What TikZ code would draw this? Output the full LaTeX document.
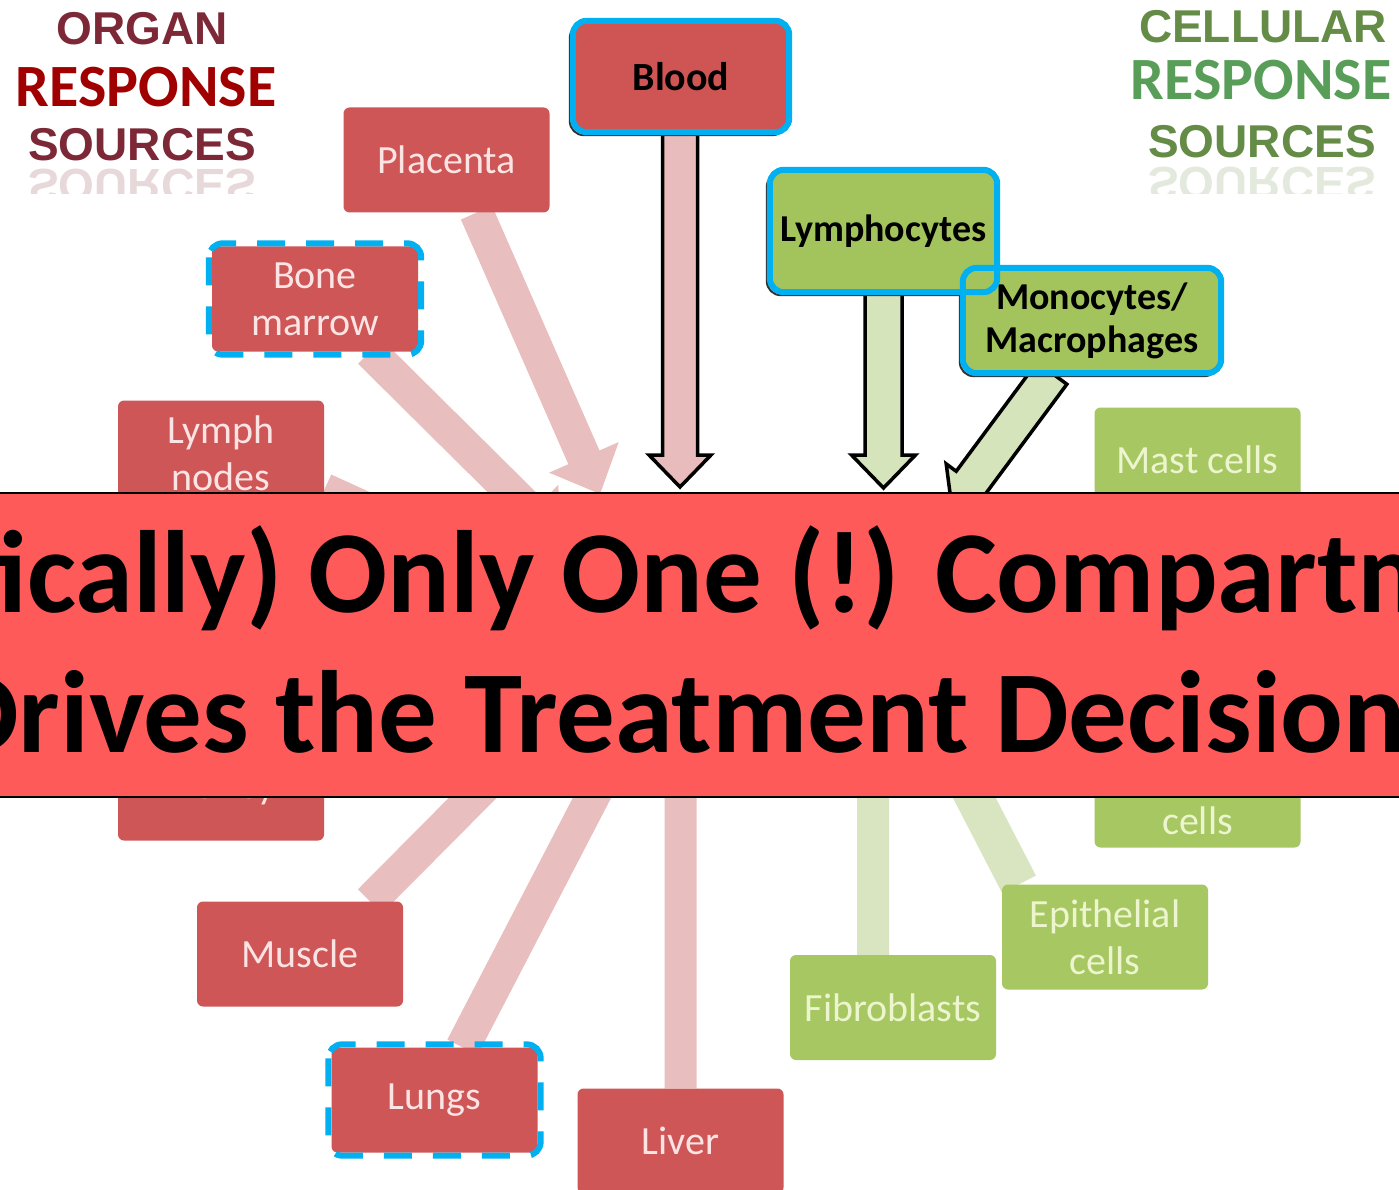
\documentclass[tikz,border=0pt]{standalone}
\usepackage{fontspec}
\setmainfont{Carlito}
\newfontfamily\titlefont{Liberation Sans}
\usetikzlibrary{calc}
\definecolor{boxred}{RGB}{206,86,86}
\definecolor{hlred}{RGB}{207,84,84}
\definecolor{boxgreen}{RGB}{166,199,98}
\definecolor{hlgreen}{RGB}{163,196,92}
\definecolor{palered}{RGB}{233,190,190}
\definecolor{palegreen}{RGB}{217,229,193}
\definecolor{arrowpink}{RGB}{232,188,188}
\definecolor{arrowgreen}{RGB}{214,228,188}
\definecolor{hlcyan}{RGB}{0,176,240}
\definecolor{bannerred}{RGB}{255,90,90}
\definecolor{titlered}{RGB}{160,0,0}
\definecolor{titlegreen}{RGB}{88,158,88}
\definecolor{titlemaroon}{RGB}{125,40,55}
\definecolor{titleolive}{RGB}{100,140,70}
\definecolor{redtext}{RGB}{252,228,228}
\definecolor{greentext}{RGB}{236,245,205}
\pgfdeclarelayer{bglayer}
\pgfdeclarelayer{arrowlayer}
\pgfdeclarelayer{frontlayer}
\pgfsetlayers{bglayer,arrowlayer,main,frontlayer}
% #1 style, #2 start, #3 tip, #4 shaft half width, #5 head half width, #6 head length
\newcommand\blockarrow[6]{%
  \coordinate (bah) at ($(#3)!#6!(#2)$);
  \path[#1] ($(#2)!#4!90:(#3)$) -- ($(bah)!#4!-90:(#2)$) -- ($(bah)!#5!-90:(#2)$) -- (#3)
    -- ($(bah)!#5!90:(#2)$) -- ($(bah)!#4!90:(#2)$) -- ($(#2)!#4!-90:(#3)$) -- cycle;}
\begin{document}
\begin{tikzpicture}[x=1pt,y=-1pt,
  organ/.style={fill=boxred, rounded corners=6pt, minimum width=206pt, minimum height=105pt,
    text=redtext, font=\fontsize{40}{47}\selectfont, align=center, inner sep=0pt},
  cell/.style={organ, fill=boxgreen, text=greentext},
  hlbox/.style={rounded corners=12pt, inner sep=0pt, align=center, text=black,
    font=\bfseries\fontsize{38}{43}\selectfont},
  cyanline/.style={draw=hlcyan, line width=6pt, rounded corners=14pt},
  cyandash/.style={draw=hlcyan, line width=6pt, rounded corners=14pt, dash pattern=on 28pt off 21pt},
  shadowline/.style={draw=black!80, line width=2pt, rounded corners=14pt},
  palered/.style={fill=palered},
  palegreen/.style={fill=palegreen},
  bigred/.style={fill=arrowpink, draw=black, line width=3.5pt, line join=miter},
  biggreen/.style={fill=arrowgreen, draw=black, line width=3.5pt, line join=miter},
  ttl/.style={inner sep=0pt, font=\titlefont\bfseries\fontsize{46}{50}\selectfont},
  resp/.style={inner sep=2pt, fill=white, font=\bfseries\fontsize{60}{64}\selectfont},
  banner/.style={fill=bannerred, draw=black, line width=2pt, minimum width=1440pt, minimum height=304pt, inner sep=0pt},
  bannertext/.style={inner sep=0pt, text=black, font=\bfseries\fontsize{117}{140}\selectfont}
]
\useasboundingbox (0,0) rectangle (1399,1190);
\clip (0,0) rectangle (1399,1190);
\begin{pgfonlayer}{bglayer}
\fill[white] (0,0) rectangle (1399,1190);
\end{pgfonlayer}

% ---------- titles ----------
\node[ttl, text=titlemaroon] (organ) at (142,29) {ORGAN};
\node[ttl, text=titlemaroon] (osrc) at (142,145) {SOURCES};
\begin{scope}
  \clip (0,165) rectangle (300,194);
  \begin{scope}[shift={(142,185)}, yscale=-1]
    \node[ttl, text=titlemaroon, opacity=0.18, transform shape] (osrcr) at (0,0) {SOURCES};
  \end{scope}
\end{scope}
\node[resp, text=titlered] (oresp) at (146,87) {RESPONSE};

\node[ttl, text=titleolive] (cellu) at (1263,27) {CELLULAR};
\node[ttl, text=titleolive] (csrc) at (1262,142) {SOURCES};
\begin{scope}
  \clip (1100,163) rectangle (1399,194);
  \begin{scope}[shift={(1262,183)}, yscale=-1]
    \node[ttl, text=titleolive, opacity=0.18, transform shape] (csrcr) at (0,0) {SOURCES};
  \end{scope}
\end{scope}
\node[resp, text=titlegreen] (cresp) at (1261,80) {RESPONSE};

% ---------- faded organ boxes ----------
\node[organ] (placenta) at (446.5,160) {Placenta};
\node[organ] (bone) at (315,299) {Bone\\marrow};
\node[organ] (lymph) at (221,453) {Lymph\\nodes};
\node[organ] (kidney) at (221,788) {Kidney};
\node[organ] (muscle) at (300,954) {Muscle};
\node[organ] (lungs) at (434.5,1100) {Lungs};
\node[organ] (liver) at (680.5,1141) {Liver};

% ---------- faded cell boxes ----------
\node[cell] (mast) at (1197.5,460) {Mast cells};
\node[cell] (endo) at (1197.5,795) {\strut\\cells};
\node[cell] (epi) at (1105,937) {Epithelial\\cells};
\node[cell] (fibro) at (893,1007.5) {Fibroblasts};

% ---------- highlighted boxes ----------
\node[hlbox, fill=hlred, minimum width=216pt, minimum height=111pt,
      font=\bfseries\fontsize{40}{44}\selectfont] (blood) at (681,76.5) {Blood};
\node[hlbox, fill=hlgreen, minimum width=227pt, minimum height=122pt] (lympho) at (883.5,231) {Lymphocytes};
\node[hlbox, fill=hlgreen, minimum width=258pt, minimum height=105pt] (mono) at (1092,320.5) {Monocytes/\\Macrophages};
\draw[cyanline] (blood.north west) rectangle (blood.south east);
\draw[cyanline] (lympho.north west) rectangle (lympho.south east);
\draw[cyanline] (mono.north west) rectangle (mono.south east);
\draw[cyandash] ($(bone.north west)+(-3,-3)$) rectangle ($(bone.south east)+(3,3)$);
\draw[cyandash] ($(lungs.north west)+(-3,-3)$) rectangle ($(lungs.south east)+(3,3)$);

% ---------- arrows ----------
\begin{pgfonlayer}{arrowlayer}
  % pale organ arrows
  \coordinate (plT) at (600,494);
  \blockarrow{palered}{$(placenta.south)+(30,0)$}{plT}{17pt}{38pt}{40pt}
  \coordinate (boT) at (560,540);
  \blockarrow{palered}{$(bone.south)+(55,0)$}{boT}{17pt}{38pt}{40pt}
  \coordinate (lyT) at (500,570);
  \blockarrow{palered}{$(lymph.east)+(0,37)$}{lyT}{17pt}{38pt}{40pt}
  \coordinate (kiT) at (500,680);
  \blockarrow{palered}{$(kidney.east)+(0,-22)$}{kiT}{17pt}{38pt}{40pt}
  \coordinate (muT) at (560,710);
  \blockarrow{palered}{$(muscle.north)+(70,0)$}{muT}{17pt}{38pt}{40pt}
  \coordinate (luT) at (622,740);
  \blockarrow{palered}{$(lungs.north)+(28,0)$}{luT}{17pt}{38pt}{40pt}
  \coordinate (liT) at (680.5,740);
  \blockarrow{palered}{liver.north}{liT}{16pt}{38pt}{40pt}
  % pale cell arrows
  \coordinate (maT) at (970,630);
  \blockarrow{palegreen}{$(mast.west)+(0,48)$}{maT}{17pt}{38pt}{40pt}
  \coordinate (enT) at (960,700);
  \blockarrow{palegreen}{$(endo.west)+(0,-28)$}{enT}{17pt}{38pt}{40pt}
  \coordinate (epT) at (947,745);
  \blockarrow{palegreen}{$(epi.north)+(-86,0)$}{epT}{19pt}{38pt}{40pt}
  \coordinate (fiT) at (873,745);
  \blockarrow{palegreen}{$(fibro.north)+(-20,0)$}{fiT}{16pt}{38pt}{40pt}
  % outlined block arrows
  \coordinate (blT) at (680,487);
  \blockarrow{bigred}{$(blood.south)+(-1,0)$}{blT}{17.5pt}{31pt}{32pt}
  \coordinate (lcT) at (883.5,488);
  \blockarrow{biggreen}{lympho.south}{lcT}{18.5pt}{32pt}{33pt}
  \coordinate (moT) at (952,508);
  \blockarrow{biggreen}{$(mono.south)+(-40,0)$}{moT}{18.5pt}{31pt}{32pt}
  % shadows of highlighted boxes
  \draw[shadowline] ($(blood.north west)+(-3,3)$) rectangle ($(blood.south east)+(-3,3)$);
  \draw[shadowline] ($(lympho.north west)+(-3,3)$) rectangle ($(lympho.south east)+(-3,3)$);
  \draw[shadowline] ($(mono.north west)+(-3,3)$) rectangle ($(mono.south east)+(-3,3)$);
\end{pgfonlayer}

% ---------- banner ----------
\begin{pgfonlayer}{frontlayer}
  \node[banner] (banner) at (699.5,645) {};
  \node[bannertext, anchor=base] (line1) at (664,612) {(Practically) Only One (!) Compartment};
  \node[bannertext, anchor=base] (line2) at (676,752) {Drives the Treatment Decision};
\end{pgfonlayer}
\end{tikzpicture}
\end{document}
